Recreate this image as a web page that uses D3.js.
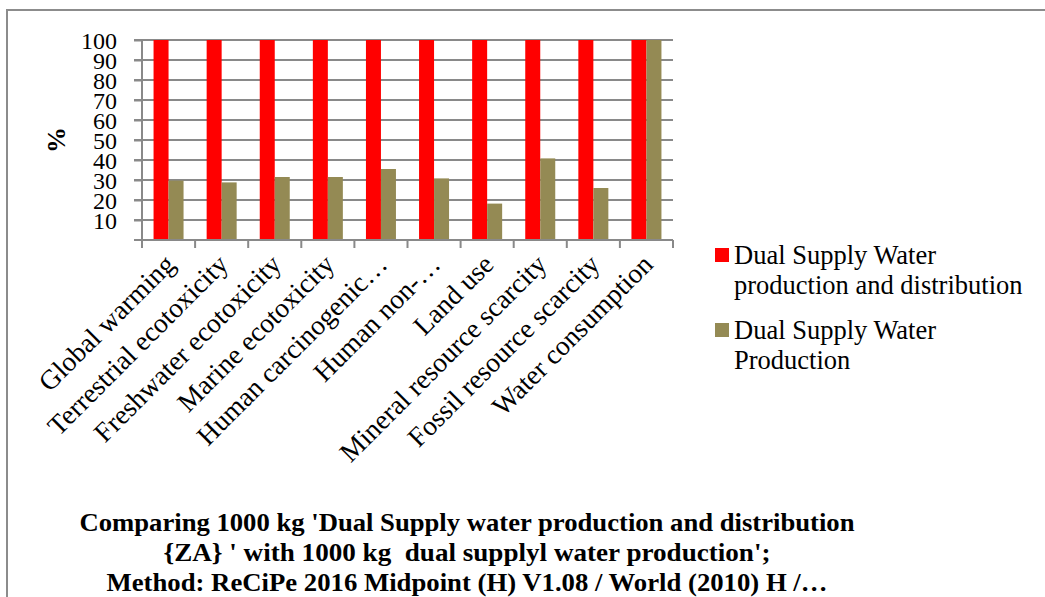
<!DOCTYPE html>
<html><head><meta charset="utf-8">
<script src="https://cdn.jsdelivr.net/npm/d3@7"></script>
<style>html,body{margin:0;padding:0;background:#fff;}svg{display:block;}</style>
</head><body>
<svg id="chart" width="1045" height="597"></svg>
<script>
const categories = ["Global warming","Terrestrial ecotoxicity","Freshwater ecotoxicity","Marine ecotoxicity","Human carcinogenic\u2026","Human non-\u2026","Land use","Mineral resource scarcity","Fossil resource scarcity","Water consumption"];
const seriesNames = ["Dual Supply Water production and distribution","Dual Supply Water Production"];
const productionAndDistribution = [100,100,100,100,100,100,100,100,100,100];
const productionOnly = [29.7,28.8,31.5,31.5,35.5,30.8,18.2,40.8,26.0,100];
const yTicks = [10,20,30,40,50,60,70,80,90,100];
const legendLines = [["Dual Supply Water","production and distribution"],["Dual Supply Water","Production"]];
const titleLines = ["Comparing 1000 kg 'Dual Supply water production and distribution","{ZA} ' with 1000 kg  dual supplyl water production';","Method: ReCiPe 2016 Midpoint (H) V1.08 / World (2010) H /\u2026"];
const colors = ["#FF0000","#948A54"];

const svg = d3.select("#chart");
const serif = "'Liberation Serif','Times New Roman',serif";
const gridColor = "#898989";

// frame
svg.append("path").attr("d","M7,600 L7,10 L1050,10").attr("fill","none").attr("stroke","#8c8c8c").attr("stroke-width",2);

const pLeft = 142, pRight = 673, pTop = 40, pBottom = 240;
const x0 = d3.scaleBand().domain(categories).range([pLeft,pRight]).paddingInner(0.435).paddingOuter(0.2175);
const x1 = d3.scaleBand().domain(seriesNames).range([0,x0.bandwidth()]);
const y = d3.scaleLinear().domain([0,100]).range([pBottom,pTop]);

// gridlines
svg.append("g").selectAll("line").data(yTicks).join("line")
  .attr("x1",pLeft-8).attr("x2",pRight).attr("y1",d=>y(d)).attr("y2",d=>y(d))
  .attr("stroke",gridColor).attr("stroke-width",2);

// y axis
const yAxis = d3.axisLeft(y).tickValues(yTicks).tickSize(8).tickPadding(17);
const gy = svg.append("g").attr("transform",`translate(${pLeft},0)`).call(yAxis);
gy.attr("font-family",null).attr("font-size",null);
gy.select(".domain").attr("stroke",gridColor).attr("stroke-width",2).attr("d",`M-8,${pBottom}H0V${pTop}`);
gy.selectAll(".tick line").attr("stroke",gridColor).attr("stroke-width",2);
gy.selectAll(".tick text").style("font-family",serif).style("font-size","24px").attr("fill","#000").attr("dy","0.34em");

// bars
const data = categories.map((c,i)=>({c, vals:[productionAndDistribution[i], productionOnly[i]]}));
const groups = svg.append("g").selectAll("g").data(data).join("g")
  .attr("transform",d=>`translate(${x0(d.c)},0)`);
groups.selectAll("rect").data(d=>d.vals.map((v,j)=>({v,s:seriesNames[j],j}))).join("rect")
  .attr("x",d=>x1(d.s)).attr("width",x1.bandwidth())
  .attr("y",d=>y(d.v)).attr("height",d=>pBottom-y(d.v))
  .attr("fill",d=>colors[d.j]);

// x axis
const step = x0.step();
const boundaries = d3.range(categories.length+1).map(i=>pLeft+i*step);
svg.append("line").attr("x1",pLeft-8).attr("x2",pRight).attr("y1",pBottom).attr("y2",pBottom).attr("stroke",gridColor).attr("stroke-width",2);
svg.append("g").selectAll("line").data(boundaries).join("line")
  .attr("x1",d=>d).attr("x2",d=>d).attr("y1",pBottom).attr("y2",pBottom+8)
  .attr("stroke",gridColor).attr("stroke-width",2);
svg.append("g").selectAll("text").data(categories).join("text")
  .attr("transform",d=>`translate(${x0(d)+x0.bandwidth()/2+8},266) rotate(-45)`)
  .attr("text-anchor","end").style("font-family",serif).style("font-size","27.5px").attr("fill","#000")
  .text(d=>d);

// y label
svg.append("text").attr("transform","translate(65,140) rotate(-90)").attr("text-anchor","middle")
  .style("font-family",serif).attr("font-weight","bold").style("font-size","26px").text("%");

// legend
const lg = svg.append("g");
legendLines.forEach((lines,i)=>{
  const yb = 264 + i*75;
  lg.append("rect").attr("x",715).attr("y",yb-16).attr("width",14).attr("height",14).attr("fill",colors[i]);
  lines.forEach((t,k)=>{
    lg.append("text").attr("x",734).attr("y",yb+k*30).style("font-family",serif).style("font-size","26.5px").attr("fill","#000").text(t);
  });
});

// title
const titleWidths = [775,607,721];
svg.append("g").selectAll("text").data(titleLines).join("text")
  .attr("x",467).attr("y",(d,i)=>531+i*30).attr("text-anchor","middle")
  .style("font-family",serif).attr("font-weight","bold").style("font-size","26px").attr("fill","#000")
  .attr("textLength",(d,i)=>titleWidths[i]).attr("lengthAdjust","spacingAndGlyphs")
  .style("white-space","pre")
  .text(d=>d);
</script>
</body></html>
